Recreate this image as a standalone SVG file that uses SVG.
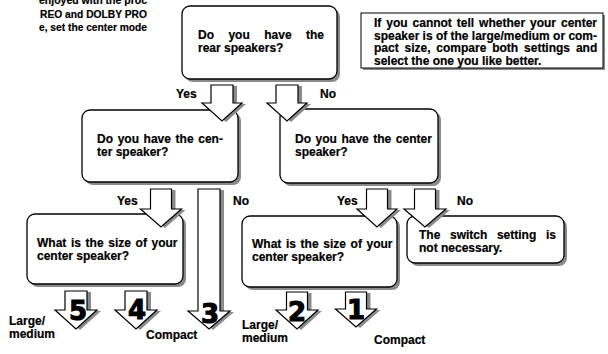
<svg xmlns="http://www.w3.org/2000/svg" width="608" height="354" viewBox="0 0 608 354">
<style>
.box{fill:#fff;stroke:#000;stroke-width:1.3}
.shd{fill:#8a8a8a}
.arr{fill:#fff;stroke:#000;stroke-width:1.2;stroke-linejoin:miter}
.ash{fill:#8a8a8a}
text{font-family:"Liberation Sans",Arial,sans-serif;font-weight:bold;font-size:12px;fill:#000;stroke:#000;stroke-width:0.2}
.intro{font-size:11.5px}
.num{font-family:"DejaVu Sans",sans-serif;font-size:26px;font-weight:bold;text-anchor:middle;stroke:#000;stroke-width:1.1}
</style>

<g id="intro-text">
<text class="intro" x="39" y="4" textLength="108" lengthAdjust="spacingAndGlyphs">enjoyed with the proc</text>
<text class="intro" x="40" y="17.5" textLength="107" lengthAdjust="spacingAndGlyphs">REO and DOLBY PRO</text>
<text class="intro" x="39" y="30.5" textLength="108" lengthAdjust="spacingAndGlyphs">e, set the center mode</text>
</g>

<g id="note">
<rect class="shd" x="363" y="15" width="242" height="55"/>
<rect x="361" y="13" width="242" height="55" fill="#fff" stroke="#000" stroke-width="1"/>
<text x="374" y="27" word-spacing="1.6">If you cannot tell whether your center</text>
<text x="374" y="39.5" textLength="223" lengthAdjust="spacingAndGlyphs">speaker is of the large/medium or com-</text>
<text x="374" y="52" word-spacing="2.5">pact size, compare both settings and</text>
<text x="374" y="64.5">select the one you like better.</text>
</g>

<g id="q-rear-speakers">
<rect class="shd" x="185" y="9" width="155" height="73" rx="8"/>
<rect class="box" x="182" y="6" width="155" height="73" rx="8"/>
<text x="198" y="39" word-spacing="11.1">Do you have the</text>
<text x="198" y="52">rear speakers?</text>
</g>

<g id="q-center-left">
<rect class="shd" x="85" y="113" width="156" height="72" rx="8"/>
<rect class="box" x="82" y="110" width="156" height="72" rx="8"/>
<text x="97" y="143" word-spacing="1.3">Do you have the cen-</text>
<text x="97" y="156">ter speaker?</text>
</g>

<g id="q-center-right">
<rect class="shd" x="283" y="112" width="158" height="74" rx="8"/>
<rect class="box" x="280" y="109" width="158" height="74" rx="8"/>
<text x="295" y="143" word-spacing="1.2">Do you have the center</text>
<text x="295" y="156">speaker?</text>
</g>

<g id="q-size-left">
<rect class="shd" x="30" y="217" width="156" height="70" rx="8"/>
<rect class="box" x="27" y="214" width="156" height="70" rx="8"/>
<text x="37" y="247" word-spacing="1.3">What is the size of your</text>
<text x="37" y="260">center speaker?</text>
</g>

<g id="q-size-right">
<rect class="shd" x="245" y="219" width="155" height="71" rx="8"/>
<rect class="box" x="242" y="216" width="155" height="71" rx="8"/>
<text x="252" y="248" word-spacing="1.3">What is the size of your</text>
<text x="252" y="261">center speaker?</text>
</g>

<g id="no-switch">
<rect class="shd" x="410" y="219" width="157" height="47" rx="8"/>
<rect class="box" x="407" y="216" width="157" height="47" rx="8"/>
<text x="419" y="239" word-spacing="6.3">The switch setting is</text>
<text x="419" y="252">not necessary.</text>
</g>

<g id="connectors">
<g id="rear-yes">
<path class="ash" transform="translate(4,1)" d="M211,85 H233 V103 H242 L222,121 L202,103 H211 Z"/>
<path class="arr" d="M211,85 H233 V103 H242 L222,121 L202,103 H211 Z"/>
<text x="176" y="98">Yes</text>
</g>
<g id="rear-no">
<path class="ash" transform="translate(4,1)" d="M276,85 H298 V103 H307 L287,121 L267,103 H276 Z"/>
<path class="arr" d="M276,85 H298 V103 H307 L287,121 L267,103 H276 Z"/>
<text x="320" y="98">No</text>
</g>
<g id="centerL-yes">
<path class="ash" transform="translate(4,1)" d="M150.5,189 H171.5 V209 H181.5 L161,227 L140.5,209 H150.5 Z"/>
<path class="arr" d="M150.5,189 H171.5 V209 H181.5 L161,227 L140.5,209 H150.5 Z"/>
<text x="117" y="205">Yes</text>
</g>
<g id="centerL-no">
<path class="ash" transform="translate(4,1)" d="M198,189 H220 V311 H230 L209,329 L188,311 H198 Z"/>
<path class="arr" d="M198,189 H220 V311 H230 L209,329 L188,311 H198 Z"/>
<text x="233" y="205">No</text>
<text class="num" x="210" y="323">3</text>
</g>
<g id="centerR-yes">
<path class="ash" transform="translate(4,1)" d="M366.5,189 H387.5 V209 H397 L377,227 L357,209 H366.5 Z"/>
<path class="arr" d="M366.5,189 H387.5 V209 H397 L377,227 L357,209 H366.5 Z"/>
<text x="337" y="205">Yes</text>
</g>
<g id="centerR-no">
<path class="ash" transform="translate(4,1)" d="M414.5,189 H435.5 V209 H446 L425,227 L404,209 H414.5 Z"/>
<path class="arr" d="M414.5,189 H435.5 V209 H446 L425,227 L404,209 H414.5 Z"/>
<text x="457" y="205">No</text>
</g>
<g id="out-5">
<path class="ash" transform="translate(4,1)" d="M65,291 H87 V310 H97 L76,329 L55,310 H65 Z"/>
<path class="arr" d="M65,291 H87 V310 H97 L76,329 L55,310 H65 Z"/>
<text class="num" x="78" y="320">5</text>
</g>
<g id="out-4">
<path class="ash" transform="translate(4,1)" d="M125,291 H147 V310 H157 L136,329 L115,310 H125 Z"/>
<path class="arr" d="M125,291 H147 V310 H157 L136,329 L115,310 H125 Z"/>
<text class="num" x="137" y="319">4</text>
</g>
<g id="out-2">
<path class="ash" transform="translate(4,1)" d="M286.5,292 H307.5 V310 H318 L297,329 L276,310 H286.5 Z"/>
<path class="arr" d="M286.5,292 H307.5 V310 H318 L297,329 L276,310 H286.5 Z"/>
<text class="num" x="297" y="321">2</text>
</g>
<g id="out-1">
<path class="ash" transform="translate(4,1)" d="M345.5,292 H366.5 V309 H376.5 L356,327 L335.5,309 H345.5 Z"/>
<path class="arr" d="M345.5,292 H366.5 V309 H376.5 L356,327 L335.5,309 H345.5 Z"/>
<text class="num" x="356" y="319">1</text>
</g>
<g id="outcome-labels">
<text x="9" y="325">Large/</text>
<text x="9" y="338">medium</text>
<text x="146" y="339">Compact</text>
<text x="242" y="329">Large/</text>
<text x="242" y="342">medium</text>
<text x="374" y="344">Compact</text>
</g>
</g>
</svg>
